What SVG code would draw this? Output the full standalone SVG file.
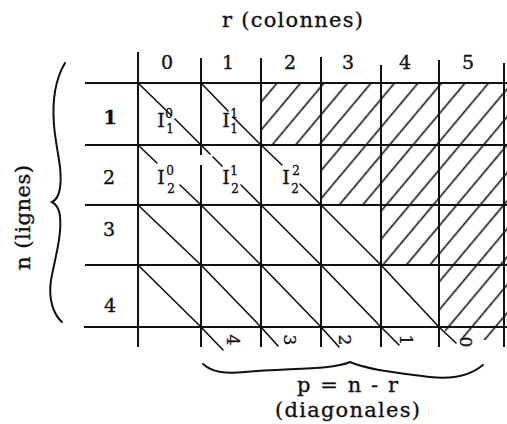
<svg xmlns="http://www.w3.org/2000/svg" width="507" height="424" viewBox="0 0 507 424">
  <style>
    .t { font-family: "DejaVu Serif", "Liberation Serif", serif; fill: #111; stroke: #111; stroke-width: 0.35px; }
    .big { font-size: 21px; }
    .num { font-size: 19px; text-anchor: middle; }
    .sc { font-size: 12px; text-anchor: middle; }
    .tail { font-size: 17px; text-anchor: middle; }
    .grid line { stroke: #111; stroke-width: 2; }
    .diag line { stroke: #111; stroke-width: 1.6; stroke-linecap: round; }
    .brace { fill: none; stroke: #111; stroke-width: 2; stroke-linecap: round; }
  </style>
  <defs>
    <pattern id="hatch" patternUnits="userSpaceOnUse" width="18" height="18" patternTransform="rotate(40)">
      <line x1="13.6" y1="-2" x2="13.6" y2="20" stroke="#111" stroke-width="1.6"/>
    </pattern>
  </defs>

  <rect width="507" height="424" fill="#fff"/>

  <!-- hatched staircase: cells where r > n -->
  <path id="hatched" d="M261,83 H507 V340 H500 L455,340 L441,327 H439 V265 H381 V205 H321 V145 H261 Z" fill="url(#hatch)"/>

  <!-- table rules -->
  <g id="grid" class="grid">
    <line x1="85" y1="83" x2="507" y2="83"/>
    <line x1="85" y1="145" x2="507" y2="145"/>
    <line x1="85" y1="205" x2="507" y2="205"/>
    <line x1="85" y1="265" x2="507" y2="265"/>
    <line x1="84" y1="327" x2="507" y2="327"/>
    <line x1="138" y1="52" x2="138" y2="347"/>
    <line x1="201" y1="58" x2="201" y2="155"/>
    <line x1="201" y1="165" x2="201" y2="347"/>
    <line x1="261" y1="58" x2="261" y2="347"/>
    <line x1="321" y1="57" x2="321" y2="347"/>
    <line x1="381" y1="65" x2="381" y2="347"/>
    <line x1="439" y1="60" x2="439" y2="347"/>
    <line x1="504" y1="63" x2="504" y2="347"/>
  </g>

  <!-- diagonals p = n - r -->
  <g id="connectors" class="diag">
    <!-- row 1 -->
    <line x1="138" y1="83" x2="171" y2="115"/>
    <line x1="175" y1="119" x2="201" y2="145"/>
    <line x1="201" y1="83" x2="228" y2="111"/>
    <line x1="233" y1="117" x2="261" y2="145"/>
    <!-- row 2 -->
    <line x1="138" y1="145" x2="157" y2="163"/>
    <line x1="180" y1="185" x2="201" y2="205"/>
    <line x1="201" y1="145" x2="210" y2="154"/>
    <line x1="213" y1="157" x2="222" y2="166"/>
    <line x1="241" y1="185" x2="261" y2="205"/>
    <line x1="261" y1="145" x2="282" y2="165"/>
    <line x1="300" y1="184" x2="321" y2="205"/>
    <!-- row 3 -->
    <line x1="138" y1="205" x2="201" y2="265"/>
    <line x1="201" y1="205" x2="261" y2="265"/>
    <line x1="261" y1="205" x2="321" y2="265"/>
    <line x1="321" y1="205" x2="381" y2="265"/>
    <!-- row 4 -->
    <line x1="138" y1="265" x2="201" y2="327"/>
    <line x1="201" y1="265" x2="261" y2="327"/>
    <line x1="261" y1="265" x2="321" y2="327"/>
    <line x1="321" y1="265" x2="381" y2="327"/>
    <line x1="381" y1="265" x2="439" y2="327"/>
    <!-- tails below the table -->
    <line x1="201" y1="327" x2="223" y2="350"/>
    <line x1="261" y1="327" x2="278" y2="346"/>
    <line x1="321" y1="327" x2="339" y2="347"/>
    <line x1="381" y1="327" x2="399" y2="345"/>
    <line x1="439" y1="327" x2="456" y2="343"/>
  </g>

  <!-- axis titles and braces -->
  <g id="title-r">
    <text class="t big" x="292.5" y="27" text-anchor="middle" textLength="141" lengthAdjust="spacing">r (colonnes)</text>
  </g>
  <g id="title-n">
    <path class="brace" d="M65,63 C56,78 52,100 54,125 C56,150 63,170 60,188 C59,195 56,200 52,202 C56,204 59,209 60,216 C62,236 55,258 51,280 C48,300 54,315 62,322"/>
    <text class="t big" transform="translate(30,217.5) rotate(-90)" text-anchor="middle" textLength="105" lengthAdjust="spacing">n (lignes)</text>
  </g>
  <g id="title-p">
    <path class="brace" d="M203,364 C212,372 224,374 245,372 C290,368 332,370 350,362 C368,370 400,373 430,377 C456,380 472,374 483,365"/>
    <text class="t big" x="347.5" y="392" text-anchor="middle" textLength="101" lengthAdjust="spacing">p = n - r</text>
    <text class="t big" x="347.5" y="417" text-anchor="middle" textLength="145" lengthAdjust="spacing">(diagonales)</text>
  </g>

  <!-- column headers -->
  <g id="cols" class="t num">
    <text x="167" y="69">0</text>
    <text x="228" y="69">1</text>
    <text x="290" y="69">2</text>
    <text x="348" y="69">3</text>
    <text x="405" y="69">4</text>
    <text x="468" y="69">5</text>
  </g>

  <!-- row headers -->
  <g id="rows" class="t num">
    <text x="110" y="124" font-weight="bold">1</text>
    <text x="109" y="184">2</text>
    <text x="109" y="236">3</text>
    <text x="110" y="312">4</text>
  </g>

  <!-- cell entries -->
  <g id="cell-1-0" class="t">
    <text class="num" x="161" y="127">I</text>
    <text class="sc" x="169" y="118">0</text>
    <text class="sc" x="170" y="133">1</text>
  </g>
  <g id="cell-1-1" class="t">
    <text class="num" x="226" y="127">I</text>
    <text class="sc" x="234" y="118">1</text>
    <text class="sc" x="234" y="133">1</text>
  </g>
  <g id="cell-2-0" class="t">
    <text class="num" x="161" y="184">I</text>
    <text class="sc" x="170" y="175">0</text>
    <text class="sc" x="171" y="193">2</text>
  </g>
  <g id="cell-2-1" class="t">
    <text class="num" x="226" y="184">I</text>
    <text class="sc" x="234" y="175">1</text>
    <text class="sc" x="235" y="193">2</text>
  </g>
  <g id="cell-2-2" class="t">
    <text class="num" x="286" y="184">I</text>
    <text class="sc" x="296" y="175">2</text>
    <text class="sc" x="295" y="193">2</text>
  </g>

  <!-- diagonal numbers -->
  <g id="diag-labels" class="t tail">
    <text transform="translate(233,340) rotate(90)" y="6">4</text>
    <text transform="translate(290,340) rotate(90)" y="6">3</text>
    <text transform="translate(345,340) rotate(90)" y="6">2</text>
    <text transform="translate(406,340) rotate(90)" y="6">1</text>
    <text transform="translate(466,342) rotate(90)" y="6">0</text>
  </g>
</svg>
